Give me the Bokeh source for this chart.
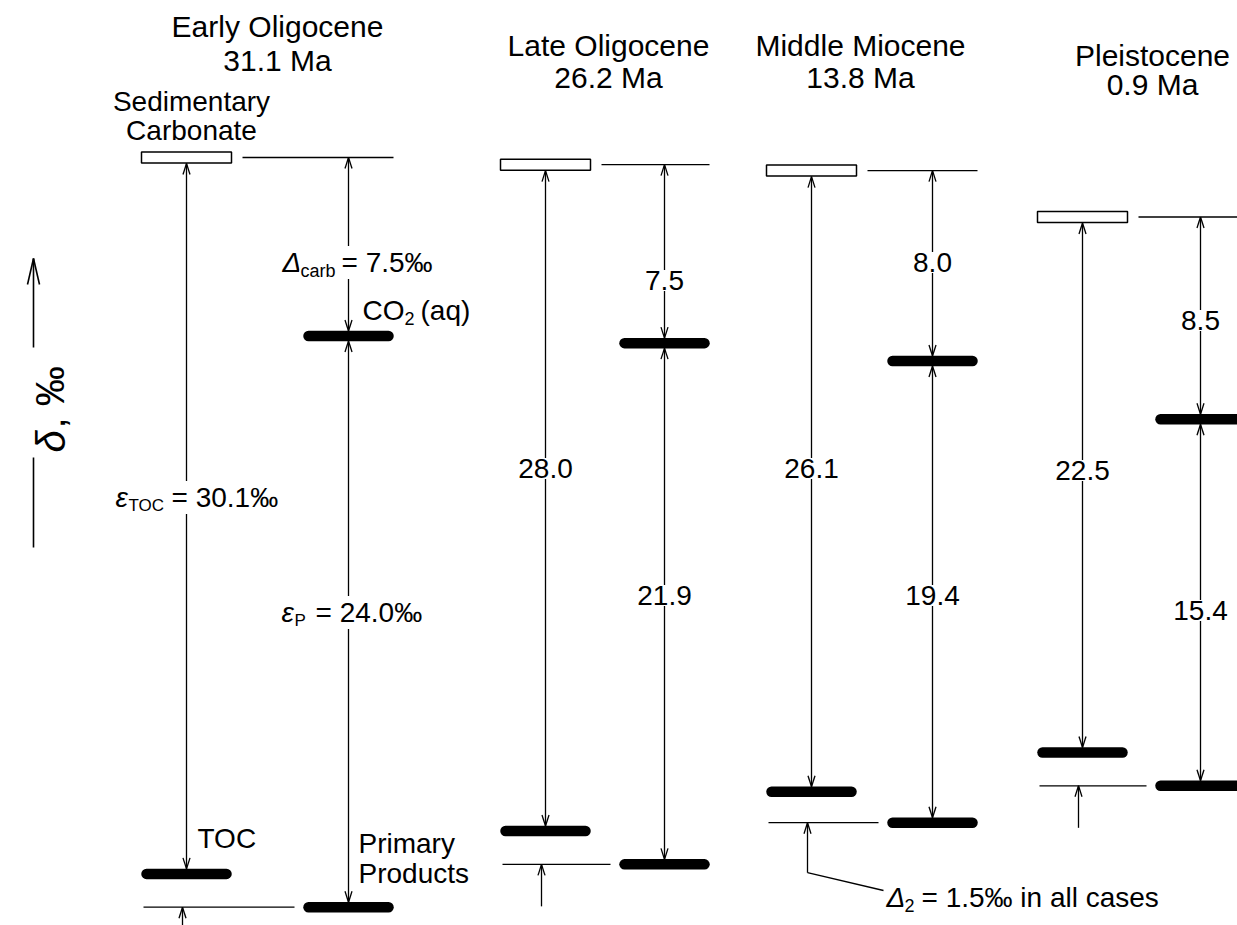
from bokeh.plotting import figure
from bokeh.models import Range1d
from bokeh.core.properties import value
from bokeh.embed import file_html
from bokeh.resources import INLINE

# ---------------- data (per‰) ----------------
epochs = ["Early Oligocene", "Late Oligocene", "Middle Miocene", "Pleistocene"]
ages = ["31.1 Ma", "26.2 Ma", "13.8 Ma", "0.9 Ma"]
carbonate = [2.5, 2.2, 1.95, 0.0]        # relative δ of sedimentary carbonate
delta_carb = [7.5, 7.5, 8.0, 8.5]        # Δcarb
eps_p = [24.0, 21.9, 19.4, 15.4]         # εP
eps_toc = [30.1, 28.0, 26.1, 22.5]       # εTOC
delta_2 = 1.5                            # Δ2 (all cases)

co2 = [c - d for c, d in zip(carbonate, delta_carb)]
primary = [c - e for c, e in zip(co2, eps_p)]
toc = [c - e for c, e in zip(carbonate, eps_toc)]

# ---------------- layout ----------------
FONT = "Liberation Sans"
W, H = 1237, 925
PX = 23.8                                  # pixels per permil
Y_TOP = carbonate[0] + 157 / PX


def ypx(py):
    return Y_TOP - py / PX


def dpx(n):
    return n / PX


LX = [186, 545, 811, 1082]     # column of carbonate / TOC
RX = [348, 664, 932, 1200]     # column of CO2 / primary products

p = figure(width=W, height=H, x_range=Range1d(0, W),
           y_range=Range1d(Y_TOP - H / PX, Y_TOP),
           x_axis_type=None, y_axis_type=None, output_backend="svg",
           toolbar_location=None, min_border=0, outline_line_color=None,
           background_fill_color="white", border_fill_color="white")

segs = dict(x0=[], y0=[], x1=[], y1=[])


def add_seg(x0, y0, x1, y1):
    segs["x0"].append(x0); segs["y0"].append(y0)
    segs["x1"].append(x1); segs["y1"].append(y1)


def add_head(x, y, up, length=11, half=3.5):
    dy = -dpx(length) if up else dpx(length)
    add_seg(x - half, y + dy, x, y)
    add_seg(x + half, y + dy, x, y)


for i in range(4):
    lx, rx = LX[i], RX[i]
    c, q, pr, t = carbonate[i], co2[i], primary[i], toc[i]
    # reference lines
    add_seg(lx + 56, c, rx + 45, c)
    add_seg(lx - 43, pr, rx - 54, pr)
    # εTOC arrow
    top, bot = c - dpx(6), t + dpx(5)
    add_seg(lx, top, lx, bot); add_head(lx, top, True); add_head(lx, bot, False)
    # Δcarb arrow
    top, bot = c, q + dpx(5)
    add_seg(rx, top, rx, bot); add_head(rx, top, True); add_head(rx, bot, False)
    # εP arrow
    top, bot = q - dpx(5), pr + dpx(5)
    add_seg(rx, top, rx, bot); add_head(rx, top, True); add_head(rx, bot, False)
    # Δ2 small arrow
    ln = 50 if i == 2 else 42
    add_seg(lx - 4, pr - dpx(ln), lx - 4, pr); add_head(lx - 4, pr, True)
    if i == 2:
        add_seg(lx - 4, pr - dpx(ln), 883, ypx(890))

p.segment(x0="x0", y0="y0", x1="x1", y1="y1", source=segs,
          line_color="black", line_width=1.3)

# y-axis arrow and line
p.segment(x0=[33, 33], y0=[ypx(547), ypx(347)], x1=[33, 33], y1=[ypx(457), ypx(258)],
          line_color="black", line_width=1.6)
p.segment(x0=[27, 39], y0=[ypx(284), ypx(284)], x1=[33, 33], y1=[ypx(258), ypx(258)],
          line_color="black", line_width=1.6)

# thick bars (CO2, TOC, primary products)
bx = RX + LX + RX
by = co2 + toc + primary
p.segment(x0=[x - 40 for x in bx], y0=by, x1=[x + 40 for x in bx], y1=by,
          line_color="black", line_width=10.5, line_cap="round")

# carbonate boxes
p.rect(x=LX, y=carbonate, width=90, height=11, height_units="screen",
       fill_color="white", line_color="black", line_width=1.5)


def txt(x, py, s, size=28, style="normal", align="left", bg=False, angle=0,
        baseline="middle"):
    kw = {}
    if bg:
        kw = dict(background_fill_color="white", padding=1)
    p.text(x=[x], y=[ypx(py)], text=[s], text_font=value(FONT),
           text_font_size=f"{size}px", text_font_style=style,
           text_align=align, text_baseline=baseline, text_color="black",
           angle=angle, **kw)


# titles
TX = [277, 608, 860, 1152]
TY1 = [26, 45, 45, 55]
TY2 = [60, 77, 77, 84]
for i in range(4):
    txt(TX[i], TY1[i], epochs[i], size=30, align="center")
    txt(TX[i], TY2[i], ages[i], size=30, align="center")

# labels of the first column
txt(191, 101, "Sedimentary", align="center")
txt(191, 130, "Carbonate", align="center")
txt(197, 838, "TOC")
txt(358, 843, "Primary")
txt(358, 873, "Products")

# CO2 (aq)
txt(362, 310, "CO")
txt(404, 318, "2", size=18)
txt(420, 310, "(aq)")

# Δcarb = 7.5‰
txt(281, 262, "Δ", style="italic", bg=True)
txt(299, 270, "carb", size=18, bg=True)
txt(340, 262, f"= {delta_carb[0]:.1f}‰", bg=True)

# εTOC = 30.1‰
txt(114, 497, "ε", style="italic", bg=True)
txt(127, 505, "TOC", size=17, bg=True)
txt(170, 497, f"= {eps_toc[0]:.1f}‰", bg=True)

# εP = 24.0‰
txt(280, 612, "ε", style="italic", bg=True)
txt(293, 620, "P", size=17, bg=True)
txt(314, 612, f"= {eps_p[0]:.1f}‰", bg=True)

# numbers on the arrows for the other columns
NUM_TOC_Y = [468, 468, 470]
NUM_CARB_Y = [280, 262, 320]
NUM_P_Y = [595, 595, 610]
for k, i in enumerate([1, 2, 3]):
    txt(LX[i], NUM_TOC_Y[k], f"{eps_toc[i]:.1f}", align="center", bg=True)
    txt(RX[i], NUM_CARB_Y[k], f"{delta_carb[i]:.1f}", align="center", bg=True)
    txt(RX[i], NUM_P_Y[k], f"{eps_p[i]:.1f}", align="center", bg=True)

# Δ2 note
txt(886, 897, "Δ", style="italic")
txt(904, 905, "2", size=18)
txt(921, 897, f"= {delta_2:.1f}‰ in all cases")

# y-axis label, rotated
txt(50, 452, "δ", size=40, style="italic", angle=1.5708, baseline="alphabetic")
txt(50, 428, ", ‰", size=40, angle=1.5708, baseline="alphabetic")

open("out.html", "w").write(file_html(p, INLINE))
